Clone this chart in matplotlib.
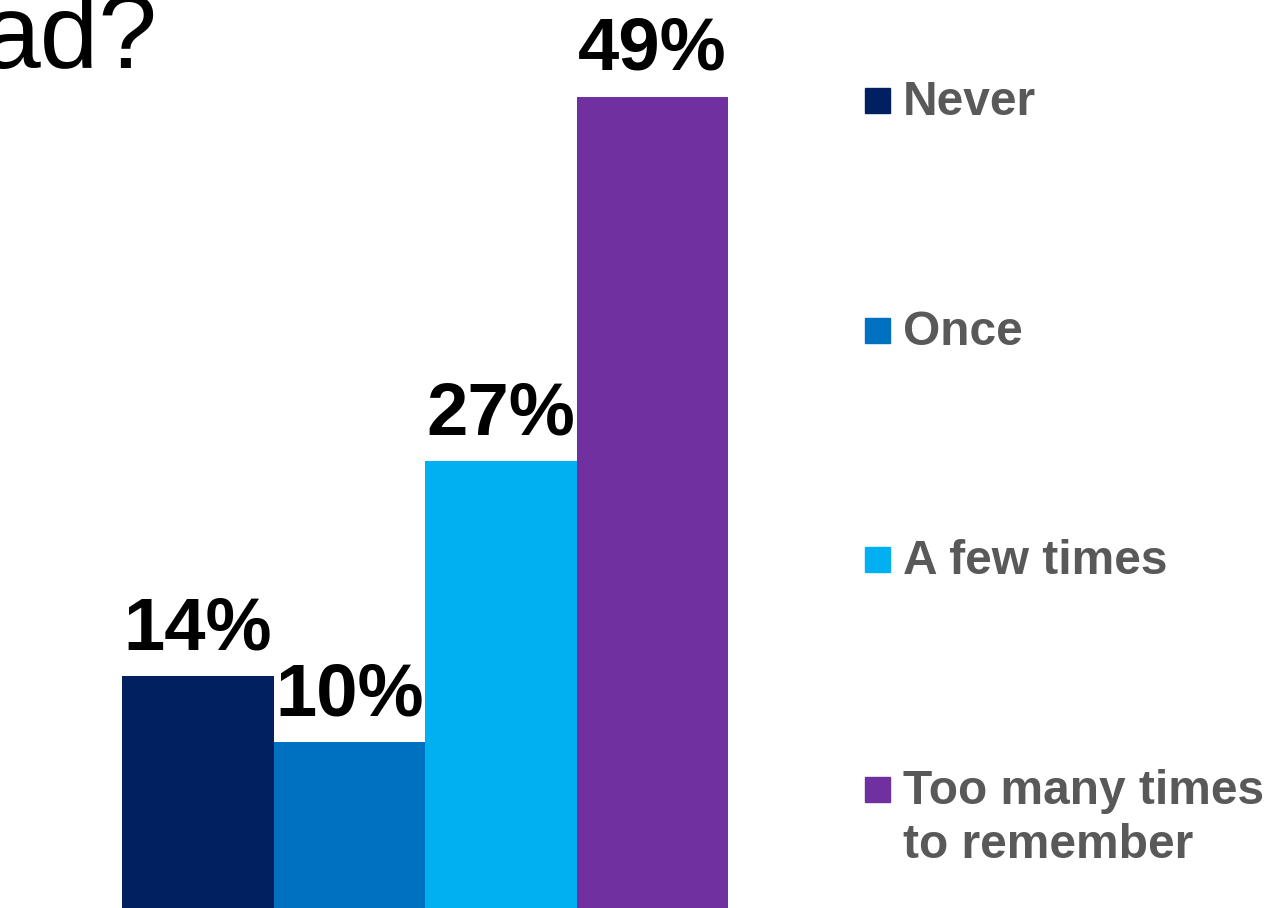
import matplotlib.pyplot as plt
from matplotlib.patches import Rectangle

plt.rcParams['font.family'] = ['Liberation Sans', 'DejaVu Sans']

categories = ['Never', 'Once', 'A few times', 'Too many times\nto remember']
values = [14, 10, 27, 49]
colors = ['#002060', '#0070C0', '#00B0F0', '#7030A0']
title_text = 'ad?'

W, H = 1270, 908
fig = plt.figure(figsize=(W / 100, H / 100), dpi=100)

# bar axes, flush with the bottom of the picture
ax = fig.add_axes([122 / W, 0, 606 / W, 1])
x = list(range(len(values)))
ax.bar(x, values, width=1.0, color=colors)
ax.set_xlim(-0.5, len(values) - 0.5)
ax.set_ylim(0, H / ((H - 97) / 49))
ax.axis('off')

for i, v in zip(x, values):
    ax.annotate(f'{v}%', (i, v), xytext=(0, 19.5), textcoords='offset points',
                ha='center', va='baseline', fontsize=53.5, fontweight='bold',
                color='black')

# cut-off title at top left
fig.text(157 / W, 1 - 68 / H, title_text, ha='right', va='baseline',
         fontsize=76, color='black')

# legend drawn by hand, one entry per category
baselines = [115, 345, 574, 804]
line_gap = 54
for lab, col, b in zip(categories, colors, baselines):
    fig.patches.append(Rectangle((865 / W, 1 - (b - 2) / H), 25 / W, 25 / H,
                                 transform=fig.transFigure, color=col))
    last = b + line_gap * lab.count('\n')
    fig.text(903 / W, 1 - last / H, lab, ha='left', va='baseline',
             fontsize=34.5, fontweight='bold', color='#595959', linespacing=1.25)

fig.savefig('out.png', dpi=100)
